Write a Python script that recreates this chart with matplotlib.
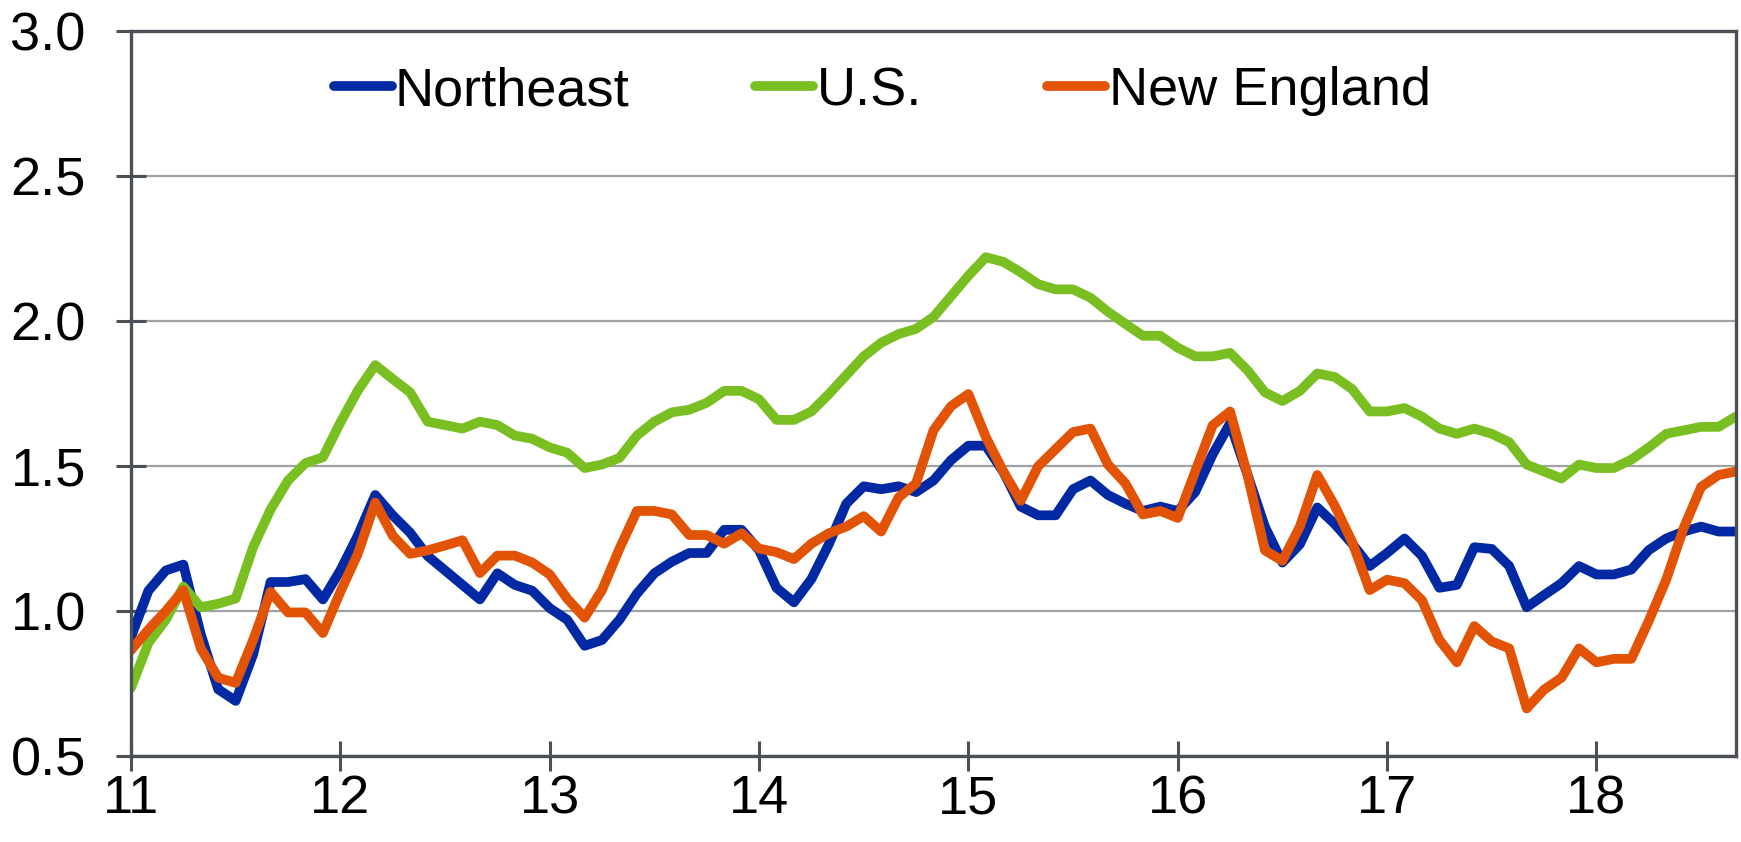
import numpy as np
import matplotlib
matplotlib.use('Agg')
import matplotlib.pyplot as plt

plt.rcParams['font.family'] = ['Liberation Sans', 'DejaVu Sans']

# monthly, Jan 2011 .. Sep 2018
start_year = 11

northeast = [0.91, 1.07, 1.14, 1.16, 0.92, 0.73, 0.69, 0.85, 1.10, 1.10, 1.11, 1.04,
             1.14, 1.26, 1.40, 1.33, 1.27, 1.19, 1.14, 1.09, 1.04, 1.13, 1.09, 1.07,
             1.01, 0.97, 0.88, 0.90, 0.97, 1.06, 1.13, 1.17, 1.20, 1.20, 1.28, 1.28,
             1.21, 1.08, 1.03, 1.11, 1.23, 1.37, 1.43, 1.42, 1.43, 1.41, 1.45, 1.52,
             1.57, 1.57, 1.48, 1.36, 1.33, 1.33, 1.42, 1.45, 1.40, 1.37, 1.345, 1.36,
             1.345, 1.41, 1.54, 1.647, 1.47, 1.29, 1.167, 1.23, 1.357, 1.30, 1.232, 1.155,
             1.20, 1.25, 1.19, 1.08, 1.09, 1.22, 1.214, 1.155, 1.013, 1.055, 1.096, 1.155,
             1.126, 1.126, 1.143, 1.21, 1.25, 1.274, 1.291, 1.274, 1.274]

us = [0.735, 0.89, 0.97, 1.084, 1.013, 1.025, 1.043, 1.22, 1.35, 1.45, 1.51, 1.53,
      1.65, 1.76, 1.848, 1.80, 1.754, 1.653, 1.641, 1.629, 1.653, 1.641, 1.605, 1.594,
      1.564, 1.546, 1.493, 1.505, 1.528, 1.605, 1.653, 1.685, 1.694, 1.718, 1.759, 1.759,
      1.73, 1.659, 1.659, 1.688, 1.748, 1.813, 1.878, 1.925, 1.955, 1.973, 2.014, 2.085,
      2.156, 2.22, 2.204, 2.168, 2.127, 2.109, 2.109, 2.08, 2.032, 1.99, 1.949, 1.949,
      1.908, 1.878, 1.878, 1.89, 1.83, 1.754, 1.724, 1.759, 1.819, 1.807, 1.765, 1.688,
      1.688, 1.70, 1.67, 1.629, 1.611, 1.629, 1.611, 1.582, 1.505, 1.481, 1.457, 1.505,
      1.493, 1.493, 1.522, 1.564, 1.611, 1.623, 1.635, 1.635, 1.671]

new_england = [0.865, 0.936, 1.00, 1.072, 0.871, 0.77, 0.752, 0.90, 1.066, 0.995, 0.995, 0.924,
               1.066, 1.197, 1.374, 1.26, 1.197, 1.209, 1.226, 1.244, 1.131, 1.191, 1.191, 1.167,
               1.126, 1.043, 0.977, 1.072, 1.215, 1.345, 1.345, 1.333, 1.262, 1.262, 1.232, 1.268,
               1.215, 1.203, 1.179, 1.232, 1.268, 1.291, 1.327, 1.274, 1.392, 1.44, 1.623, 1.706,
               1.748, 1.60, 1.481, 1.38, 1.499, 1.558, 1.617, 1.629, 1.505, 1.44, 1.333, 1.345,
               1.321, 1.481, 1.640, 1.688, 1.469, 1.209, 1.173, 1.291, 1.469, 1.363, 1.238, 1.072,
               1.108, 1.096, 1.037, 0.90, 0.823, 0.948, 0.895, 0.871, 0.664, 0.729, 0.77, 0.871,
               0.823, 0.835, 0.835, 0.966, 1.108, 1.286, 1.428, 1.469, 1.481]

x = start_year + np.arange(len(northeast)) / 12.0

fig = plt.figure(figsize=(17.41, 8.42), dpi=100)
ax = fig.add_axes([131 / 1741, 1 - 756 / 842, 1605 / 1741, 725 / 842])

lw = 7
ax.plot(x, northeast, color='#0029A3', lw=lw, solid_joinstyle='round', solid_capstyle='round', label='Northeast')
ax.plot(x, us, color='#79BF22', lw=lw, solid_joinstyle='round', solid_capstyle='round', label='U.S.')
ax.plot(x, new_england, color='#E35306', lw=lw, solid_joinstyle='round', solid_capstyle='round', label='New England')

ax.set_xlim(start_year, x[-1])
ax.set_ylim(0.5, 3.0)
ax.set_xticks(range(11, 19))
ax.set_yticks([0.5, 1.0, 1.5, 2.0, 2.5, 3.0])
ax.set_yticklabels(['0.5', '1.0', '1.5', '2.0', '2.5', '3.0'])

ax.grid(axis='y', color='#9FA2A5', lw=1.6)
ax.set_axisbelow(True)
for s in ax.spines.values():
    s.set_color('#4B5056')
    s.set_linewidth(2.4)
ax.tick_params(direction='inout', length=22, width=2.2, color='#4B5056', labelsize=39)
ax.tick_params(axis='y', pad=21.5)
ax.tick_params(axis='x', pad=2)

ax.legend(loc='center', bbox_to_anchor=(0.468, 0.917), ncol=3, frameon=False,
          fontsize=39, handlelength=1.07, handletextpad=0.06, columnspacing=2.32)

fig.savefig('out.png', dpi=100)
